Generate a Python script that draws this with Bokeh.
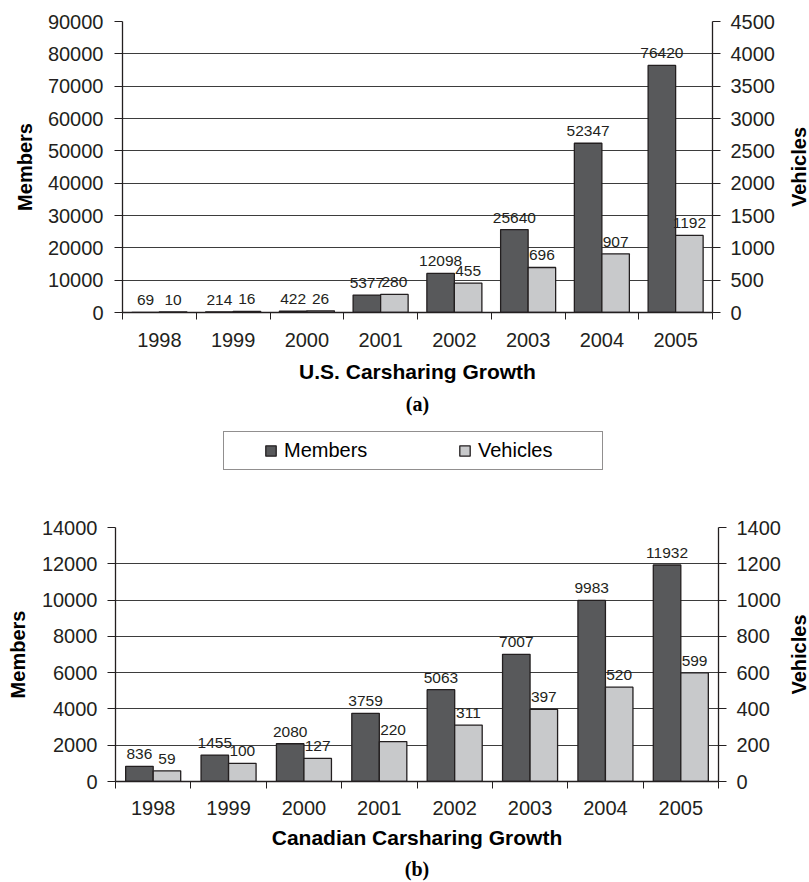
import math
from bokeh.plotting import figure
from bokeh.models import (Range1d, LinearAxis, FixedTicker, ColumnDataSource, LabelSet, Label,
                          Legend, LegendItem, Title)
from bokeh.transform import dodge
from bokeh.layouts import column, row
from bokeh.core.properties import value
from bokeh.embed import file_html
from bokeh.resources import INLINE

# ---------------- data ----------------
years = ["1998", "1999", "2000", "2001", "2002", "2003", "2004", "2005"]
us_members = [69, 214, 422, 5377, 12098, 25640, 52347, 76420]
us_vehicles = [10, 16, 26, 280, 455, 696, 907, 1192]
ca_members = [836, 1455, 2080, 3759, 5063, 7007, 9983, 11932]
ca_vehicles = [59, 100, 127, 220, 311, 397, 520, 599]
us_member_ticks = [0, 10000, 20000, 30000, 40000, 50000, 60000, 70000, 80000, 90000]
us_vehicle_ticks = [0, 500, 1000, 1500, 2000, 2500, 3000, 3500, 4000, 4500]
ca_member_ticks = [0, 2000, 4000, 6000, 8000, 10000, 12000, 14000]
ca_vehicle_ticks = [0, 200, 400, 600, 800, 1000, 1200, 1400]
series_names = ["Members", "Vehicles"]

DARK = "#58595b"
LIGHT = "#c8c9cb"
EDGE = "#231f20"
GRID = "#3d3d3d"
TEXT = "#231f20"
SANS = "Liberation Sans"


def blank(p):
    p.background_fill_color = "white"
    p.border_fill_color = "white"
    p.outline_line_color = None
    for g in p.grid:
        g.visible = False


def build(members, vehicles, m_ticks, v_ticks, xtitle, sub, fw, fh, bl, bt, br, bb, bar_w,
          l_std, l_lstd, r_std, x_std, x_lstd, sub_std, sub_off):
    xs = list(range(1, len(years) + 1))
    src = ColumnDataSource(dict(x=xs, members=members, vehicles=vehicles,
                                m_lbl=[str(v) for v in members],
                                v_lbl=[str(v) for v in vehicles]))
    p = figure(frame_width=fw, frame_height=fh, min_border_left=bl, min_border_top=bt,
               min_border_right=br, min_border_bottom=bb,
               x_range=Range1d(0.5, len(years) + 0.5),
               y_range=Range1d(m_ticks[0], m_ticks[-1]),
               output_backend="svg", toolbar_location=None)
    p.extra_y_ranges = {"veh": Range1d(v_ticks[0], v_ticks[-1])}
    p.background_fill_color = "white"
    p.border_fill_color = "white"
    p.outline_line_color = None
    p.xgrid.visible = False
    p.ygrid[0].ticker = FixedTicker(ticks=m_ticks)
    p.ygrid[0].grid_line_color = GRID
    p.ygrid[0].grid_line_width = 1

    mb = p.vbar(x=dodge("x", -bar_w / 2), top="members", bottom=0, width=bar_w, source=src,
                fill_color=DARK, line_color=EDGE, line_width=1.3)
    vb = p.vbar(x=dodge("x", bar_w / 2), top="vehicles", bottom=0, width=bar_w, source=src,
                y_range_name="veh", fill_color=LIGHT, line_color=EDGE, line_width=1.3)

    for field, lbl, off, rng in (("members", "m_lbl", -bar_w / 2, "default"),
                                 ("vehicles", "v_lbl", bar_w / 2, "veh")):
        ls = LabelSet(x=dodge("x", off), y=field, text=lbl, source=src, y_range_name=rng,
                      text_align="center", text_baseline="bottom", y_offset=7,
                      text_font=value(SANS), text_font_size="15.5px", text_color=TEXT)
        p.add_layout(ls)

    ly = p.yaxis[0]
    ly.ticker = FixedTicker(ticks=m_ticks)
    ly.axis_label = series_names[0]
    ry = LinearAxis(y_range_name="veh", ticker=FixedTicker(ticks=v_ticks))
    p.add_layout(ry, "right")
    for ax, std in ((ly, l_std), (ry, r_std)):
        ax.major_tick_out = 8
        ax.major_tick_in = 0
        ax.minor_tick_line_color = None
        ax.major_tick_line_color = EDGE
        ax.axis_line_color = EDGE
        ax.axis_line_width = 1.3
        ax.major_label_standoff = std
        ax.major_label_text_font = SANS
        ax.major_label_text_font_size = "20px"
        ax.major_label_text_color = TEXT
    ly.axis_label_standoff = l_lstd
    ly.axis_label_text_font = SANS
    ly.axis_label_text_font_size = "20px"
    ly.axis_label_text_font_style = "bold"
    ly.axis_label_text_color = "black"

    xa = p.xaxis[0]
    xa.ticker = FixedTicker(ticks=xs, minor_ticks=[i + 0.5 for i in range(len(years) + 1)])
    xa.major_label_overrides = {x: y for x, y in zip(xs, years)}
    xa.major_tick_out = 7
    xa.major_tick_in = 0
    xa.major_tick_line_color = None
    xa.minor_tick_out = 7
    xa.minor_tick_in = 0
    xa.minor_tick_line_color = EDGE
    xa.axis_line_color = EDGE
    xa.axis_line_width = 1.3
    xa.major_label_standoff = x_std
    xa.major_label_text_font = SANS
    xa.major_label_text_font_size = "20px"
    xa.major_label_text_color = TEXT
    xa.axis_label = xtitle
    xa.axis_label_standoff = x_lstd
    xa.axis_label_text_font = SANS
    xa.axis_label_text_font_size = "21px"
    xa.axis_label_text_font_style = "bold"
    xa.axis_label_text_color = "black"

    t = Title(text=sub, align="center", text_font="Liberation Serif", text_font_style="bold",
              text_font_size="20px", text_color="black", standoff=sub_std, offset=sub_off)
    p.add_layout(t, "below")
    return p, mb, vb


def side_label(p, w, x, bt, fh, bb):
    q = figure(frame_width=w, frame_height=fh, min_border_left=0, min_border_right=0,
               min_border_top=bt, min_border_bottom=bb, x_range=Range1d(0, w),
               y_range=p.y_range, x_axis_location=None, y_axis_location=None,
               output_backend="svg", toolbar_location=None)
    blank(q)
    mid = (p.y_range.start + p.y_range.end) / 2
    q.add_layout(Label(x=x, y=mid, text=series_names[1], angle=math.pi / 2,
                       text_align="center", text_baseline="middle", text_font=SANS,
                       text_font_size="20px", text_font_style="bold", text_color="black"))
    return q


p1, mb1, vb1 = build(us_members, us_vehicles, us_member_ticks, us_vehicle_ticks,
                     "U.S. Carsharing Growth", "(a)",
                     fw=590, fh=291, bl=122, bt=21, br=69, bb=118, bar_w=0.373,
                     l_std=11, l_lstd=9, r_std=10, x_std=13, x_lstd=10,
                     sub_std=10, sub_off=-5)
v1 = side_label(p1, 28, 17, 21, 291, 118)

p2, mb2, vb2 = build(ca_members, ca_vehicles, ca_member_ticks, ca_vehicle_ticks,
                     "Canadian Carsharing Growth", "(b)",
                     fw=603, fh=254, bl=115, bt=47, br=66, bb=101, bar_w=0.365,
                     l_std=10, l_lstd=10, r_std=10, x_std=12, x_lstd=8,
                     sub_std=9, sub_off=-4)
v2 = side_label(p2, 25, 14, 47, 254, 101)

# legend strip (key swatches come from hidden renderers styled like the bars)
lg = figure(frame_width=809, frame_height=50, min_border=0, x_range=Range1d(0, 1),
            y_range=Range1d(0, 1), x_axis_location=None, y_axis_location=None,
            output_backend="svg", toolbar_location=None)
blank(lg)
r_m = lg.vbar(x=[0.5], top=[0.5], width=0.1, fill_color=DARK, line_color=EDGE,
              line_width=1.3, visible=False)
r_v = lg.vbar(x=[0.5], top=[0.5], width=0.1, fill_color=LIGHT, line_color=EDGE,
              line_width=1.3, visible=False)
legend = Legend(items=[LegendItem(label=series_names[0], renderers=[r_m]),
                       LegendItem(label=series_names[1], renderers=[r_v])],
                orientation="horizontal", location=(223, 10),
                border_line_color=EDGE, border_line_width=1, background_fill_color="white",
                background_fill_alpha=1, padding=7, spacing=57, margin=0,
                label_standoff=7, glyph_width=13, glyph_height=13, label_width=117,
                inactive_fill_alpha=0,
                label_text_font=SANS, label_text_font_size="20px", label_text_color="black")
if "title_location" in Legend.properties():
    legend.title = " "
    legend.title_location = "left"
    legend.title_standoff = 10
    legend.title_text_font_size = "20px"
lg.add_layout(legend, "center")

layout = column(row(p1, v1), lg, row(p2, v2))
open("out.html", "w").write(file_html(layout, INLINE))
